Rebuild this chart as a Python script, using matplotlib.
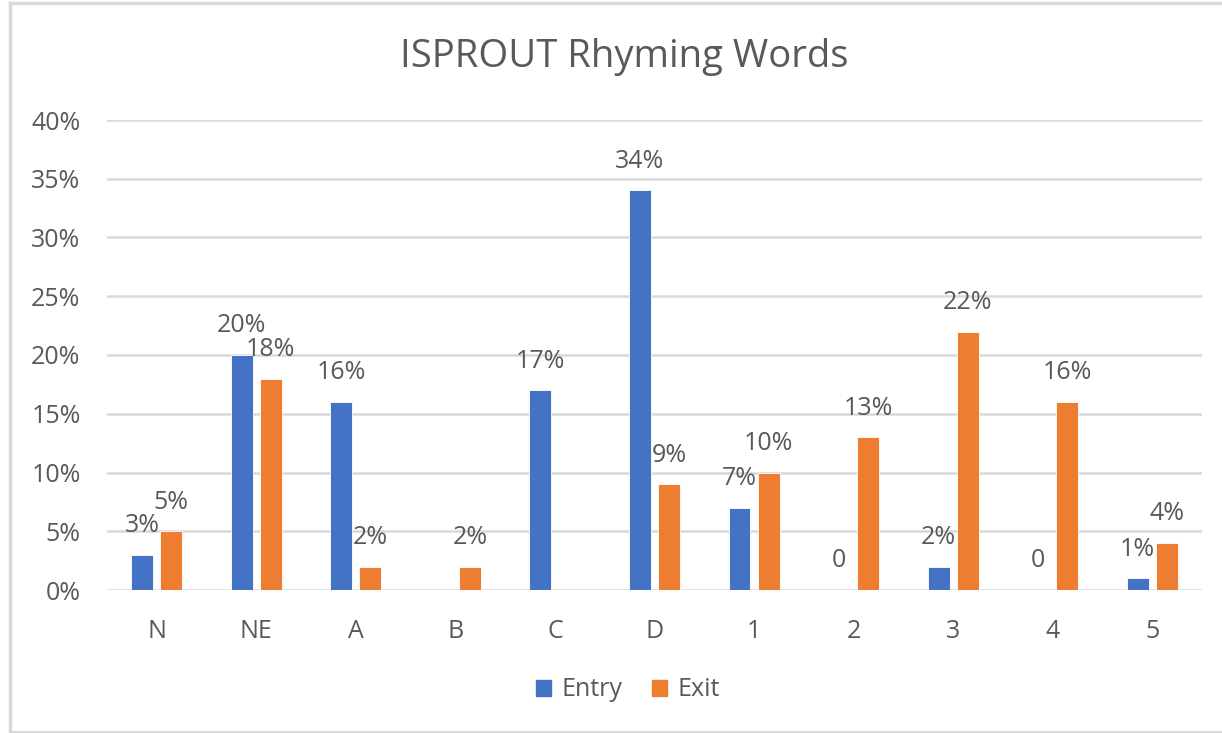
import numpy as np
import matplotlib
matplotlib.use("Agg")
import matplotlib.pyplot as plt
from matplotlib.lines import Line2D
from matplotlib.ticker import PercentFormatter

plt.rcParams["font.family"] = ["Open Sans", "DejaVu Sans"]

# Data (None = no bar and no label)
categories = ["N", "NE", "A", "B", "C", "D", "1", "2", "3", "4", "5"]
entry = [0.03, 0.20, 0.16, None, 0.17, 0.34, 0.07, 0.0, 0.02, 0.0, 0.01]
exit_ = [0.05, 0.18, 0.02, 0.02, None, 0.09, 0.10, 0.13, 0.22, 0.16, 0.04]
entry_labels = ["3%", "20%", "16%", None, "17%", "34%", "7%", "0", "2%", "0", "1%"]
exit_labels = ["5%", "18%", "2%", "2%", None, "9%", "10%", "13%", "22%", "16%", "4%"]

BLUE = "#4472C4"
ORANGE = "#ED7D31"
TEXT = "#595959"
GRID = "#D9D9D9"

W, H = 1222, 733
fig = plt.figure(figsize=(W / 100, H / 100), dpi=100)
ax = fig.add_axes([107 / W, 1 - 590 / H, (1202 - 107) / W, (590 - 120) / H])

x = np.arange(len(categories))
bw = 0.22
off = 0.146


def draw_series(vals, labels, shift, color):
    xs = [xi + shift for xi, v in zip(x, vals) if v is not None]
    hs = [v for v in vals if v is not None]
    ax.bar(xs, hs, width=bw, color=color, edgecolor="white", linewidth=0.6, zorder=3)
    for xi, v, lab in zip(x, vals, labels):
        if lab is None:
            continue
        ax.annotate(lab, (xi + shift, v), xytext=(0, 21), textcoords="offset points",
                    ha="center", va="center", fontsize=18, color=TEXT)


draw_series(entry, entry_labels, -off, BLUE)
draw_series(exit_, exit_labels, off, ORANGE)

ax.set_xlim(-0.5, len(categories) - 0.5)
ax.set_ylim(0, 0.40)
ax.set_yticks(np.arange(0, 0.41, 0.05))
ax.yaxis.set_major_formatter(PercentFormatter(1.0, decimals=0))
ax.set_xticks(x)
ax.set_xticklabels(categories)
ax.tick_params(axis="both", length=0, labelsize=18, labelcolor=TEXT)
ax.tick_params(axis="x", pad=21)
ax.tick_params(axis="y", pad=19)
ax.grid(axis="y", color=GRID, linewidth=1.8, zorder=0)
ax.set_axisbelow(True)
for s in ax.spines.values():
    s.set_visible(False)

fig.text(624 / W, 1 - 57 / H, "ISPROUT Rhyming Words", ha="center", va="center",
         fontsize=27.5, color=TEXT)

handles = [plt.Rectangle((0, 0), 1, 1, color=BLUE), plt.Rectangle((0, 0), 1, 1, color=ORANGE)]
fig.legend(handles, ["Entry", "Exit"], loc="center", bbox_to_anchor=(628 / W, 1 - 690 / H),
           ncol=2, frameon=False, fontsize=18, labelcolor=TEXT, handlelength=0.6,
           handleheight=0.6, handletextpad=0.4, columnspacing=1.2)

# chart frame
fig.add_artist(Line2D([10 / W, 10 / W], [0.002, 1 - 3 / H], color=GRID, lw=2.5))
fig.add_artist(Line2D([10 / W, 1.0], [1 - 3 / H, 1 - 3 / H], color=GRID, lw=2.5))
fig.add_artist(Line2D([10 / W, 1.0], [0.002, 0.002], color=GRID, lw=1.5))

fig.savefig("out.png", dpi=100)
